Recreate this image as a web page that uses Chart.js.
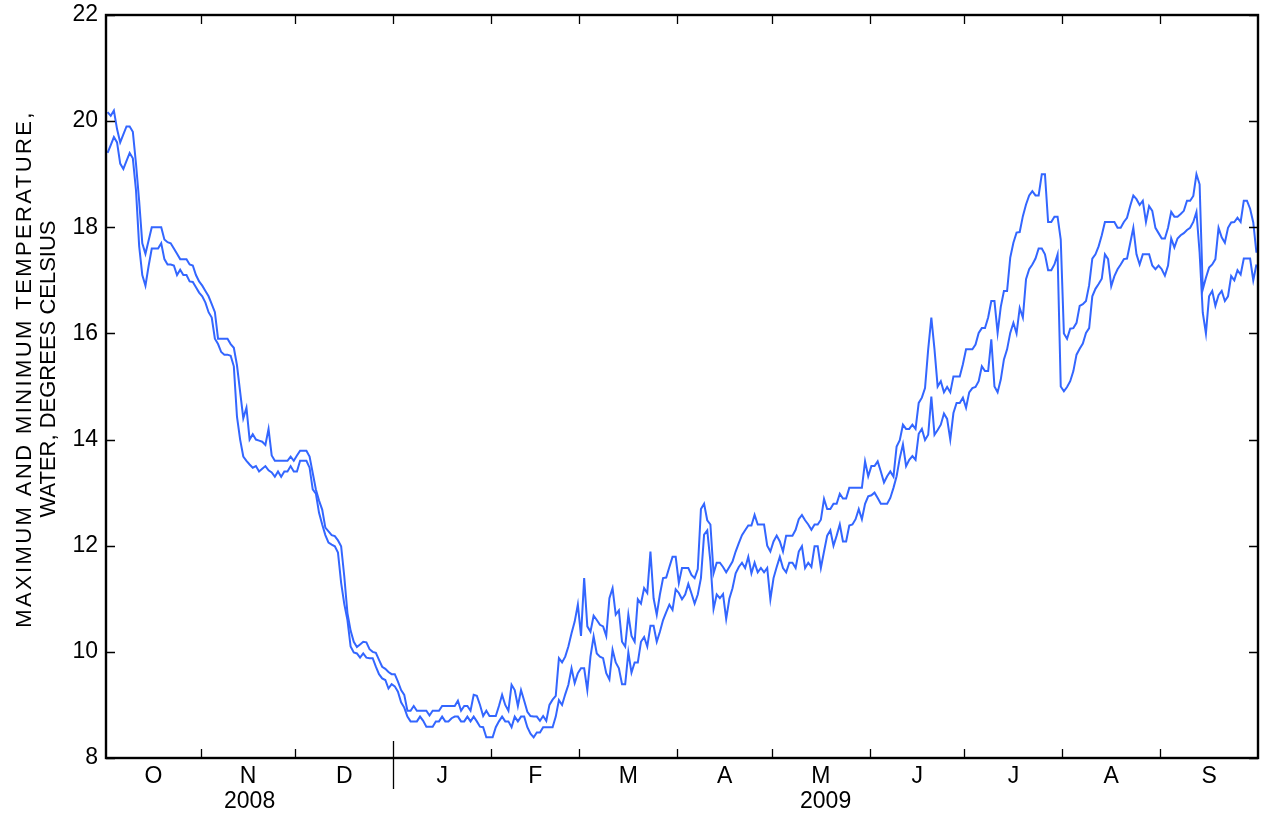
<!DOCTYPE html>
<html>
<head>
<meta charset="utf-8">
<title>Water temperature</title>
<script src="https://cdn.jsdelivr.net/npm/chart.js@4.4.1/dist/chart.umd.min.js"></script>
<style>
    html, body { margin: 0; padding: 0; background: #fff; }
    #wrap { width: 1262px; height: 821px; }
</style>
</head>
<body>
<div id="wrap"><canvas id="water-temp"></canvas></div>
<script>
// month initials, month boundary days (from Oct 1), year spans
const monthLabels = ['O', 'N', 'D', 'J', 'F', 'M', 'A', 'M', 'J', 'J', 'A', 'S'];
const monthTicks = [0, 30, 60, 91, 122, 150, 181, 211, 242, 272, 303, 334, 365];
const yearLabels = ['2008', '2009'];
const yearBounds = [0, 91, 365];
const yTicks = [8, 10, 12, 14, 16, 18, 20, 22];
const titleLines = ['MAXIMUM AND MINIMUM TEMPERATURE,', 'WATER, DEGREES CELSIUS'];

// daily maximum, Oct 1 2008 - Sep 30 2009
const maxTemp = [
    20.17, 20.1, 20.2, 19.85, 19.6, 19.75, 19.9, 19.9, 19.8, 19.2,
    18.5, 17.7, 17.5, 17.75, 18.0, 18.0, 18.0, 18.0, 17.77, 17.72,
    17.7, 17.6, 17.5, 17.4, 17.4, 17.4, 17.3, 17.28, 17.1, 16.98,
    16.9, 16.8, 16.7, 16.55, 16.4, 15.9, 15.9, 15.9, 15.9, 15.8,
    15.73, 15.4, 14.9, 14.4, 14.6, 14.0, 14.1, 14.0, 13.98, 13.96,
    13.9, 14.2, 13.7, 13.6, 13.6, 13.6, 13.6, 13.6, 13.68, 13.6,
    13.7, 13.79, 13.79, 13.79, 13.68, 13.37, 13.06, 12.85, 12.68, 12.34,
    12.27, 12.2, 12.18, 12.1, 11.99, 11.42, 10.73, 10.4, 10.19, 10.09,
    10.14, 10.19, 10.18, 10.05, 10.0, 9.98, 9.85, 9.72, 9.68, 9.62,
    9.58, 9.58, 9.44, 9.28, 9.19, 8.89, 8.89, 8.98, 8.89, 8.89,
    8.89, 8.89, 8.8, 8.89, 8.89, 8.89, 8.98, 8.98, 8.98, 8.98,
    8.98, 9.08, 8.89, 8.98, 8.98, 8.89, 9.19, 9.17, 9.0, 8.79,
    8.89, 8.79, 8.79, 8.79, 8.98, 9.19, 9.0, 8.89, 9.38, 9.28,
    8.98, 9.28, 9.08, 8.87, 8.79, 8.78, 8.78, 8.7, 8.79, 8.7,
    9.0, 9.1, 9.17, 9.88, 9.8, 9.91, 10.1, 10.35, 10.57, 10.89,
    10.3, 11.39, 10.48, 10.38, 10.68, 10.6, 10.51, 10.48, 10.3, 11.01,
    11.2, 10.7, 10.78, 10.19, 10.1, 10.7, 10.3, 10.19, 10.99, 10.91,
    11.2, 11.11, 11.89, 11.01, 10.7, 11.08, 11.39, 11.4, 11.6, 11.79,
    11.79, 11.3, 11.58, 11.58, 11.58, 11.45, 11.39, 11.56, 12.69, 12.79,
    12.48, 12.4, 11.48, 11.68, 11.68, 11.6, 11.5, 11.6, 11.7, 11.89,
    12.05, 12.2, 12.29, 12.38, 12.38, 12.58, 12.4, 12.4, 12.4, 12.0,
    11.89, 12.08, 12.19, 12.08, 11.89, 12.19, 12.19, 12.19, 12.3, 12.5,
    12.58, 12.48, 12.4, 12.3, 12.4, 12.4, 12.49, 12.88, 12.69, 12.69,
    12.79, 12.79, 12.98, 12.89, 12.89, 13.09, 13.09, 13.09, 13.09, 13.09,
    13.59, 13.31, 13.5, 13.5, 13.59, 13.4, 13.19, 13.31, 13.4, 13.3,
    13.87, 13.99, 14.28, 14.2, 14.2, 14.28, 14.2, 14.69, 14.79, 14.97,
    15.7, 16.3, 15.7, 15.0, 15.1, 14.89, 14.99, 14.89, 15.19, 15.19,
    15.19, 15.42, 15.7, 15.7, 15.7, 15.79, 16.01, 16.1, 16.1, 16.3,
    16.61, 16.61, 16.01, 16.5, 16.8, 16.8, 17.43, 17.71, 17.9, 17.91,
    18.21, 18.43, 18.6, 18.68, 18.6, 18.6, 19.0, 19.0, 18.1, 18.1,
    18.2, 18.2, 17.77, 16.0, 15.9, 16.09, 16.1, 16.2, 16.52, 16.55,
    16.61, 16.91, 17.41, 17.49, 17.64, 17.85, 18.1, 18.1, 18.1, 18.1,
    17.99, 17.99, 18.1, 18.18, 18.4, 18.6, 18.53, 18.42, 18.5, 18.1,
    18.4, 18.31, 17.99, 17.89, 17.79, 17.79, 17.99, 18.29, 18.2, 18.2,
    18.25, 18.31, 18.5, 18.5, 18.59, 19.0, 18.81, 16.83, 17.05, 17.24,
    17.3, 17.4, 17.99, 17.81, 17.71, 17.99, 18.09, 18.1, 18.18, 18.1,
    18.5, 18.5, 18.35, 18.09, 17.52
];

// daily minimum, same days
const minTemp = [
    19.4, 19.55, 19.7, 19.6, 19.2, 19.1, 19.25, 19.4, 19.3, 18.7,
    17.65, 17.1, 16.9, 17.27, 17.6, 17.6, 17.6, 17.7, 17.4, 17.3,
    17.3, 17.28, 17.1, 17.2, 17.1, 17.1, 16.98, 16.97, 16.87, 16.77,
    16.7, 16.58, 16.4, 16.3, 15.9, 15.8, 15.65, 15.6, 15.6, 15.58,
    15.38, 14.43, 14.0, 13.68, 13.6, 13.53, 13.47, 13.5, 13.4, 13.45,
    13.5, 13.42, 13.38, 13.3, 13.4, 13.3, 13.4, 13.4, 13.5, 13.4,
    13.4, 13.6, 13.6, 13.6, 13.47, 13.06, 12.98, 12.62, 12.4, 12.2,
    12.06, 12.02, 11.99, 11.87, 11.3, 10.9, 10.6, 10.1, 9.99, 9.97,
    9.89, 9.97, 9.89, 9.88, 9.88, 9.72, 9.58, 9.5, 9.47, 9.31,
    9.39, 9.35, 9.25, 9.05, 8.95, 8.78, 8.69, 8.69, 8.69, 8.78,
    8.7, 8.59, 8.59, 8.59, 8.69, 8.69, 8.78, 8.69, 8.69, 8.75,
    8.78, 8.78, 8.69, 8.69, 8.78, 8.69, 8.78, 8.69, 8.59, 8.58,
    8.39, 8.39, 8.39, 8.58, 8.69, 8.78, 8.69, 8.69, 8.58, 8.78,
    8.69, 8.78, 8.78, 8.58, 8.46, 8.39, 8.48, 8.48, 8.58, 8.58,
    8.58, 8.58, 8.78, 9.09, 9.0, 9.2, 9.38, 9.69, 9.41, 9.6,
    9.69, 9.69, 9.28, 9.91, 10.29, 9.97, 9.91, 9.88, 9.6, 9.48,
    10.04, 9.8, 9.69, 9.39, 9.39, 9.99, 9.61, 9.8, 9.8, 10.19,
    10.28, 10.1, 10.49, 10.49, 10.19, 10.38, 10.6, 10.75, 10.89, 10.79,
    11.18, 11.11, 10.99, 11.08, 11.28, 11.1, 10.91, 11.08, 11.39, 12.21,
    12.29, 11.7, 10.81, 11.08, 11.01, 11.09, 10.62, 11.0, 11.2, 11.48,
    11.6, 11.68, 11.58, 11.79, 11.48, 11.68, 11.5, 11.58, 11.5, 11.58,
    10.99, 11.39, 11.6, 11.79, 11.58, 11.5, 11.68, 11.68, 11.58, 11.89,
    11.99, 11.58, 11.68, 11.6, 11.99, 11.99, 11.58, 11.89, 12.19, 12.29,
    12.0, 12.19, 12.4, 12.08, 12.08, 12.38, 12.4, 12.5, 12.69, 12.5,
    12.79, 12.93, 12.95, 13.0, 12.9, 12.79, 12.79, 12.79, 12.9, 13.09,
    13.31, 13.65, 13.91, 13.5, 13.62, 13.69, 13.62, 14.11, 14.2, 13.99,
    14.09, 14.81, 14.09, 14.18, 14.28, 14.49, 14.39, 14.0, 14.5, 14.69,
    14.69, 14.79, 14.6, 14.89, 14.97, 14.99, 15.1, 15.38, 15.29, 15.29,
    15.89, 15.0, 14.89, 15.13, 15.51, 15.7, 16.01, 16.2, 16.0, 16.48,
    16.3, 17.02, 17.21, 17.3, 17.41, 17.6, 17.6, 17.49, 17.19, 17.19,
    17.3, 17.49, 15.0, 14.91, 14.99, 15.1, 15.29, 15.6, 15.71, 15.81,
    16.01, 16.1, 16.7, 16.84, 16.93, 17.03, 17.49, 17.4, 16.89, 17.08,
    17.21, 17.3, 17.4, 17.41, 17.7, 17.99, 17.49, 17.3, 17.49, 17.49,
    17.49, 17.28, 17.21, 17.28, 17.21, 17.09, 17.28, 17.79, 17.62, 17.79,
    17.85, 17.89, 17.95, 17.99, 18.1, 18.29, 17.52, 16.39, 16.0, 16.7,
    16.8, 16.52, 16.72, 16.8, 16.61, 16.7, 17.08, 17.0, 17.19, 17.11,
    17.41, 17.41, 17.41, 17.0, 17.3
];

const lineColor = '#3366ff';
const labelFont = '23px "Liberation Sans", Arial, sans-serif';

// frame, inward ticks and all the axis text
const framePlugin = {
    id: 'usgsFrame',
    afterDraw(chart) {
        const ctx = chart.ctx;
        const xs = chart.scales.x;
        const ys = chart.scales.y;
        const { left, right, top, bottom } = chart.chartArea;

        ctx.save();
        ctx.strokeStyle = '#000';
        ctx.fillStyle = '#000';

        ctx.lineWidth = 1.3;
        ctx.beginPath();
        monthTicks.slice(1, -1).forEach(d => {
            const px = Math.round(xs.getPixelForValue(d)) + 0.5;
            ctx.moveTo(px, bottom);
            ctx.lineTo(px, bottom - 9);
            ctx.moveTo(px, top);
            ctx.lineTo(px, top + 9);
        });
        // year divider reaches below the axis
        const yearPx = Math.round(xs.getPixelForValue(yearBounds[1])) + 0.5;
        ctx.moveTo(yearPx, bottom - 17);
        ctx.lineTo(yearPx, bottom + 31);
        yTicks.forEach(v => {
            const py = Math.round(ys.getPixelForValue(v)) + 0.5;
            ctx.moveTo(left, py);
            ctx.lineTo(left + 9, py);
            ctx.moveTo(right, py);
            ctx.lineTo(right - 9, py);
        });
        ctx.stroke();

        ctx.lineWidth = 2.4;
        ctx.strokeRect(left, top, right - left, bottom - top);

        ctx.font = labelFont;
        ctx.textAlign = 'right';
        ctx.textBaseline = 'middle';
        yTicks.forEach(v => {
            ctx.fillText(String(v), left - 8, ys.getPixelForValue(v));
        });

        ctx.textAlign = 'center';
        monthLabels.forEach((m, i) => {
            const mid = (xs.getPixelForValue(monthTicks[i]) + xs.getPixelForValue(monthTicks[i + 1])) / 2;
            ctx.fillText(m, mid, bottom + 19);
        });
        yearLabels.forEach((yr, i) => {
            const mid = (xs.getPixelForValue(yearBounds[i]) + xs.getPixelForValue(yearBounds[i + 1])) / 2;
            ctx.fillText(yr, mid, bottom + 44);
        });

        // rotated two-line title; the first line is set wider, as in the original
        ctx.font = '22px "Liberation Sans", Arial, sans-serif';
        const titleY = 369;
        const spacing = ['2.4px', '0px'];
        [25, 49].forEach((tx, i) => {
            ctx.save();
            ctx.letterSpacing = spacing[i];
            ctx.translate(tx, titleY);
            ctx.rotate(-Math.PI / 2);
            ctx.fillText(titleLines[i], 0, 0);
            ctx.restore();
        });

        ctx.restore();
    }
};

const canvas = document.querySelector('#water-temp');
canvas.width = 1262;
canvas.height = 821;

new Chart(canvas, {
    type: 'line',
    data: {
        datasets: [
            {
                label: 'Maximum',
                data: maxTemp.map((v, i) => ({ x: i + 0.5, y: v })),
                borderColor: lineColor,
                borderWidth: 2,
                pointRadius: 0,
                tension: 0,
                fill: false
            },
            {
                label: 'Minimum',
                data: minTemp.map((v, i) => ({ x: i + 0.5, y: v })),
                borderColor: lineColor,
                borderWidth: 2,
                pointRadius: 0,
                tension: 0,
                fill: false
            }
        ]
    },
    options: {
        responsive: false,
        animation: false,
        devicePixelRatio: 1,
        layout: {
            padding: { left: 106, top: 15, right: 4, bottom: 63 }
        },
        scales: {
            x: { type: 'linear', min: monthTicks[0], max: monthTicks[monthTicks.length - 1], display: false },
            y: { min: yTicks[0], max: yTicks[yTicks.length - 1], display: false }
        },
        plugins: {
            legend: { display: false },
            tooltip: { enabled: false }
        }
    },
    plugins: [framePlugin]
});
</script>
</body>
</html>
